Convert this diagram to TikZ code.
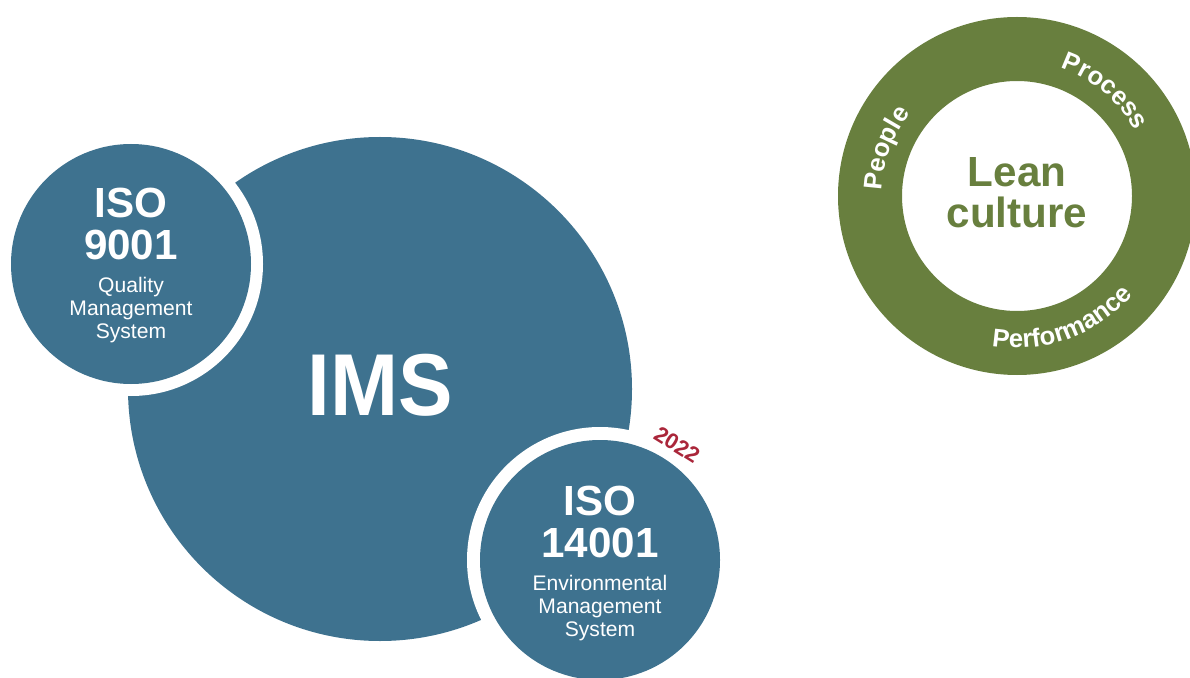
\documentclass[tikz,border=0pt]{standalone}
\usepackage{fontspec}
\setmainfont{Liberation Sans}
\newfontfamily\ringfamily[LetterSpace=8]{Liberation Sans}
\usetikzlibrary{decorations.text}
\definecolor{imsblue}{RGB}{62,114,143}
\definecolor{leangreen}{RGB}{104,127,62}
\definecolor{yearred}{RGB}{170,38,58}
\newcommand{\ringfont}{\ringfamily\fontsize{14.6}{14.6}\selectfont\bfseries\color{white}}

\begin{document}
\begin{tikzpicture}[x=0.02cm,y=0.02cm,
	title/.style={text=white,font=\fontsize{24}{23.5}\selectfont\bfseries,align=center},
	subtitle/.style={text=white,font=\fontsize{12}{13.2}\selectfont,align=center},
	ringtext/.style={decorate,decoration={text along path,text={|\ringfont|#1},text align=center}}]
		\useasboundingbox (0,0) rectangle (1190,677);
		% IMS
		\fill[imsblue] (380,288) circle(252);
		\node[text=white,font=\fontsize{50}{50}\selectfont\bfseries,xscale=0.93] (ims) at (380,292) {IMS};
		% ISO 9001
		\fill[white] (131,413) circle(132);
		\fill[imsblue] (131,413) circle(120);
		\node[title] (q9001) at (131,453) {ISO\\9001};
		\node[subtitle] (qms) at (131,367) {Quality\\Management\\System};
		% ISO 14001
		\fill[white] (600,117) circle(133);
		\fill[imsblue] (600,117) circle(120);
		\node[title] (e14001) at (600,155) {ISO\\14001};
		\node[subtitle] (ems) at (600,69) {Environmental\\Management\\System};
		\node[text=yearred,font=\fontsize{12.5}{12.5}\selectfont\bfseries,rotate=-32] (year) at (677,232) {2022};
		% lean ring
		\coordinate (lean) at (1017,481);
		\fill[leangreen,even odd rule] (lean) circle(179) (lean) circle(115);
		\node[text=leangreen,font=\fontsize{24}{23.5}\selectfont\bfseries,align=center] (culture) at (1017,484) {Lean\\culture};
		\path[ringtext=People] (lean) ++(200:135) arc(200:120:135);
		\path[ringtext=Process] (lean) ++(90:135) arc(90:10:135);
		\path[ringtext=Performance] (lean) ++(250:152) arc(250:330:152);
		
	\end{tikzpicture}
\end{document}
